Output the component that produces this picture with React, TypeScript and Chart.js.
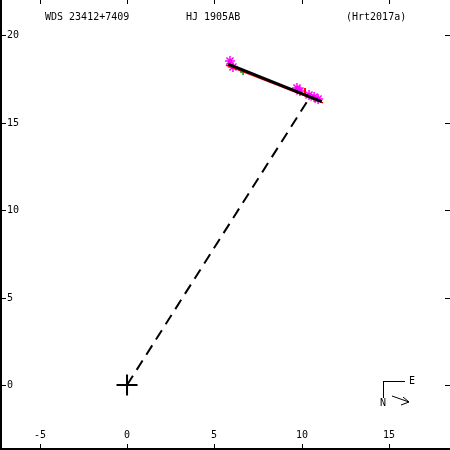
import React, { useEffect, useRef } from "react";
import { Chart, registerables } from "chart.js";

Chart.register(...registerables);

const xTicks = [-5, 0, 5, 10, 15];
const yTicks = [0, 5, 10, 15, 20];
const xRange = [-7.28, 18.51];
const yRange = [-3.71, 22.0];

const titleLeft = "WDS 23412+7409";
const titleMid = "HJ 1905AB";
const titleRight = "(Hrt2017a)";

const orbitX = [5.8, 11.16];
const orbitY = [18.34, 16.19];
const fitX = [5.67, 11.23];
const fitY = [18.28, 16.12];
const radiusX = [0, 10.45];
const radiusY = [0, 16.4];
const primaryX = [0];
const primaryY = [0];
const speckleX = [5.9, 6.07, 9.74, 9.91, 10.43, 10.72, 10.95];
const speckleY = [18.51, 18.17, 16.97, 16.8, 16.57, 16.46, 16.34];
const microX = [6.65];
const microY = [17.89];
const residX = [10.2];
const residY = [16.74];

const zip = (xs: number[], ys: number[]) => xs.map((x, i) => ({ x, y: ys[i] }));

const FONT = '10px "DejaVu Sans Mono", "Liberation Mono", monospace';

const framePlugin = {
  id: "frame",
  afterDraw(chart: any) {
    const ctx = chart.ctx as CanvasRenderingContext2D;
    const xs = chart.scales.x;
    const ys = chart.scales.y;
    const W = chart.width;
    const H = chart.height;
    ctx.save();
    ctx.fillStyle = "#000";
    ctx.fillRect(0, 0, 2, H);
    ctx.fillRect(0, H - 2, W, 2);
    ctx.font = FONT;
    ctx.textAlign = "center";
    ctx.textBaseline = "middle";
    for (const v of xTicks) {
      const px = Math.round(xs.getPixelForValue(v));
      ctx.fillRect(px, H - 6, 1, 5);
      ctx.fillRect(px, 0, 1, 4);
      ctx.fillText(String(v), px, H - 14.5);
    }
    ctx.textAlign = "left";
    for (const v of yTicks) {
      const py = Math.round(ys.getPixelForValue(v));
      ctx.fillRect(0, py, 6, 1);
      ctx.fillRect(W - 5, py, 5, 1);
      ctx.fillText(String(v), 7, py + 0.5);
    }
    ctx.textBaseline = "middle";
    ctx.fillText(titleLeft, 45, 17.5);
    ctx.fillText(titleMid, 186, 17.5);
    ctx.fillText(titleRight, 346, 17.5);
    ctx.strokeStyle = "#000";
    ctx.lineWidth = 1;
    ctx.beginPath();
    ctx.moveTo(383.5, 381);
    ctx.lineTo(383.5, 398);
    ctx.moveTo(383, 381.5);
    ctx.lineTo(405, 381.5);
    ctx.stroke();
    ctx.fillText("E", 409, 381.5);
    ctx.fillText("N", 380, 403);
    ctx.beginPath();
    ctx.moveTo(392, 396);
    ctx.lineTo(409, 402);
    ctx.moveTo(403, 397);
    ctx.lineTo(409, 402);
    ctx.lineTo(401, 405);
    ctx.stroke();
    ctx.restore();
  },
};

export default function App() {
  const ref = useRef<HTMLCanvasElement | null>(null);
  useEffect(() => {
    if (!ref.current) return;
    const chart = new Chart(ref.current, {
      type: "scatter",
      data: {
        datasets: [
          {
            data: zip(orbitX, orbitY),
            showLine: true,
            borderColor: "#000",
            borderWidth: 3,
            pointRadius: 0,
            order: 0,
          },
          {
            data: zip(fitX, fitY),
            showLine: true,
            borderColor: "#ff0000",
            borderWidth: 1.5,
            pointRadius: 0,
            order: 1,
          },
          {
            data: zip(residX, residY),
            pointStyle: "line",
            rotation: 90,
            pointRadius: 4,
            borderColor: "#ff0000",
            backgroundColor: "#ff0000",
            borderWidth: 2,
            order: 2,
          },
          {
            data: zip(speckleX, speckleY),
            pointStyle: "star",
            pointRadius: 5,
            borderColor: "#ff00ff",
            backgroundColor: "#ff00ff",
            borderWidth: 1.5,
            order: 3,
          },
          {
            data: zip(microX, microY),
            pointStyle: "cross",
            pointRadius: 3,
            borderColor: "#00a000",
            backgroundColor: "#00a000",
            borderWidth: 1.5,
            order: 3,
          },
          {
            data: zip(primaryX, primaryY),
            pointStyle: "cross",
            pointRadius: 10.5,
            borderColor: "#000",
            backgroundColor: "#000",
            borderWidth: 2,
            order: 4,
          },
          {
            data: zip(radiusX, radiusY),
            showLine: true,
            borderColor: "#000",
            borderWidth: 2,
            borderDash: [11, 7],
            pointRadius: 0,
            order: 5,
          },
        ],
      },
      options: {
        responsive: false,
        animation: false,
        layout: { padding: 0, autoPadding: false },
        plugins: { legend: { display: false }, tooltip: { enabled: false } },
        scales: {
          x: { type: "linear", min: xRange[0], max: xRange[1], display: false },
          y: { type: "linear", min: yRange[0], max: yRange[1], display: false },
        },
      },
      plugins: [framePlugin],
    });
    return () => chart.destroy();
  }, []);
  return (
    <div style={{ position: "absolute", left: 0, top: 0, width: 450, height: 450, background: "#fff" }}>
      <canvas ref={ref} width={450} height={450} style={{ display: "block" }} />
    </div>
  );
}
